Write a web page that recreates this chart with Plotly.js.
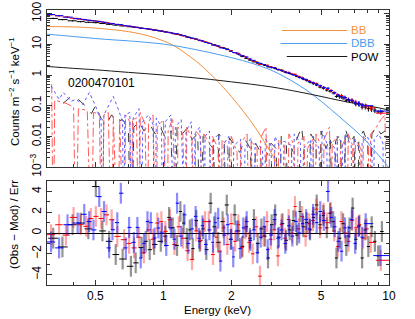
<!DOCTYPE html>
<html><head><meta charset="utf-8">
<script src="https://cdn.plot.ly/plotly-3.0.1.min.js"></script>
<style>html,body{margin:0;padding:0;background:#fff}#plot{width:415px;height:319px}</style>
</head><body><div id="plot"></div>
<script>
// ---------- model components ----------
const bbE  = [0.305,0.4,0.5,0.6,0.7,0.8,0.9,1.0,1.1,1.2,1.3,1.4,1.5,1.6,1.7,1.8,2.0,2.2,2.4,2.6,2.8,3.0,3.3];
const bbC  = [38,37,34,30,26,21.5,17,13,9.5,6.4,4.2,2.8,1.8,1.15,0.75,0.48,0.2,0.085,0.037,0.016,0.0068,0.0029,0.0008];
const dbbE = [0.305,0.4,0.5,0.6,0.7,0.8,1.0,1.2,1.5,2.0,2.5,3.0,3.5,4.0,4.5,5.0,5.5,6.0,6.5,7.0,7.5,8.0,8.5,9.0,9.5,10];
const dbbC = [21.5,18,15.5,14,13,12,10.2,8.3,6.0,3.7,2.35,1.45,0.82,0.46,0.255,0.14,0.078,0.045,0.027,0.017,0.0105,0.0065,0.0038,0.0024,0.0015,0.00095];
const powE = [0.305,0.4,0.5,0.7,1.0,1.5,2.0,3.0,4.0,5.0,6.0,7.0,8.0,9.0,10];
const powC = [1.9,1.65,1.48,1.22,1.0,0.76,0.6,0.41,0.28,0.2,0.15,0.12,0.1,0.085,0.072];

// ---------- per-instrument extra components (0 = empty bin) ----------
const compPN = [[0.36,0.12],[0.39,0.2],[0.42,0.16],[0.45,0.1],[0.48,0.055],[0.5,0.1],[0.53,0.038],[0.56,0.026],[0.59,0.05],[0.62,0.03],[0.66,0.035],[0.70,0.018],[0.72,0],[0.74,0.02],[0.78,0.03],[0.82,0.015],[0.87,0.025],[0.92,0.012],[0.97,0.02],[1.02,0.009],[1.08,0.015],[1.12,0],[1.15,0.02],[1.2,0.011],[1.27,0.018],[1.34,0.008],[1.42,0.012],[1.46,0],[1.5,0.01],[1.58,0.006],[1.67,0.004],[1.72,0],[1.76,0.012],[1.86,0.007],[1.92,0],[1.96,0.009],[2.07,0.005],[2.18,0.003],[2.3,0.008],[2.43,0.004],[2.5,0],[2.56,0.006],[2.7,0.003],[2.78,0],[2.85,0.002],[3.0,0.006],[3.16,0.004],[3.25,0],[3.33,0.01],[3.51,0.005],[3.6,0],[3.7,0.003],[3.9,0.008],[4.1,0.02],[4.2,0.004],[4.3,0],[4.5,0.012],[4.75,0.006],[4.85,0],[5.0,0.015],[5.25,0.004],[5.5,0.009],[5.65,0],[5.8,0.007],[6.1,0.012],[6.25,0],[6.4,0.018],[6.7,0.006],[7.0,0.01],[7.2,0],[7.35,0.008],[7.7,0.015],[8.05,0.006],[8.2,0],[8.4,0.012],[8.8,0.02],[9.2,0.012],[9.6,0.015],[9.9,0.01]];
const compM1 = [[0.32,0.5],[0.325,0],[0.33,0.15],[0.37,0.12],[0.40,0.09],[0.41,0],[0.42,0.08],[0.46,0.07],[0.48,0],[0.49,0.06],[0.52,0.055],[0.535,0],[0.545,0.05],[0.57,0.06],[0.59,0],[0.60,0.045],[0.63,0],[0.64,0.04],[0.67,0],[0.68,0.05],[0.71,0.03],[0.72,0],[0.73,0.035],[0.76,0.04],[0.78,0],[0.79,0.06],[0.83,0.025],[0.85,0],[0.86,0.03],[0.9,0.05],[0.93,0],[0.94,0.02],[1.0,0.035],[1.04,0],[1.05,0.015],[1.1,0.04],[1.15,0],[1.16,0.02],[1.22,0.012],[1.26,0],[1.27,0.02],[1.34,0.008],[1.38,0],[1.39,0.015],[1.46,0.01],[1.5,0],[1.51,0.012],[1.6,0.006],[1.64,0],[1.65,0.01],[1.75,0.004],[1.8,0],[1.82,0.008],[1.92,0.005],[1.98,0],[2.0,0.01],[2.12,0.003],[2.18,0],[2.2,0.006],[2.35,0.012],[2.42,0],[2.45,0.007],[2.6,0.004],[2.65,0],[2.7,0.009],[2.85,0.02],[2.92,0],[2.95,0.006],[3.1,0.003],[3.2,0],[3.25,0.008],[3.45,0.005],[3.55,0],[3.6,0.012],[3.8,0.005],[3.9,0],[3.95,0.006],[4.2,0.01],[4.3,0],[4.35,0.004],[4.6,0.008],[4.7,0],[4.75,0.012],[5.0,0.005],[5.1,0],[5.15,0.008],[5.45,0.02],[5.55,0],[5.6,0.006],[5.9,0.01],[6.0,0],[6.1,0.004],[6.4,0.008],[6.5,0],[6.6,0.012],[6.9,0.005],[7.0,0],[7.1,0.008],[7.5,0.004],[7.6,0],[7.7,0.01],[8.1,0.006],[8.2,0],[8.3,0.012],[8.8,0.02],[9.2,0.035],[9.6,0.05],[9.8,0]];
const compM2 = [[0.318,0.44],[0.345,0.16],[0.36,0.27],[0.39,0.14],[0.41,0.16],[0.44,0.11],[0.47,0.27],[0.5,0.1],[0.53,0.03],[0.535,0],[0.545,0.05],[0.58,0.12],[0.6,0.2],[0.63,0.08],[0.66,0.03],[0.665,0],[0.675,0.05],[0.71,0.06],[0.725,0],[0.735,0.04],[0.78,0.08],[0.8,0],[0.81,0.03],[0.86,0.05],[0.9,0.025],[0.92,0],[0.93,0.04],[0.98,0.02],[1.0,0],[1.02,0.03],[1.08,0.05],[1.12,0],[1.13,0.02],[1.2,0.035],[1.25,0],[1.26,0.015],[1.33,0.03],[1.37,0],[1.38,0.012],[1.45,0.02],[1.52,0],[1.53,0.01],[1.6,0.015],[1.66,0],[1.67,0.008],[1.76,0.012],[1.84,0],[1.86,0.006],[1.95,0.01],[2.03,0],[2.05,0.005],[2.2,0.008],[2.27,0],[2.3,0.004],[2.45,0.009],[2.52,0],[2.55,0.006],[2.75,0.004],[2.8,0],[2.83,0.008],[3.0,0.005],[3.08,0],[3.12,0.01],[3.3,0.004],[3.38,0],[3.42,0.007],[3.7,0.005],[3.75,0],[3.8,0.012],[4.05,0.006],[4.12,0],[4.18,0.004],[4.5,0.008],[4.56,0],[4.62,0.01],[4.9,0.004],[5.0,0],[5.05,0.015],[5.3,0.006],[5.38,0],[5.45,0.008],[5.75,0.004],[5.82,0],[5.9,0.01],[6.2,0.006],[6.3,0],[6.4,0.012],[6.8,0.005],[6.9,0],[7.0,0.008],[7.4,0.004],[7.5,0],[7.6,0.006],[8.0,0.01],[8.4,0.005],[8.5,0],[8.6,0.008],[9.0,0.012],[9.4,0.006],[9.5,0]];

// ---------- pn (black) ----------
const pnE = [0.325,0.357,0.396,0.43,0.465,0.502,0.537,0.575,0.615,0.66,
 0.718,0.754,0.80,0.836,0.87,0.91,0.974,1.02,1.06,1.10,
 1.15,1.19,1.23,1.27,1.31,1.35,1.40,1.45,1.50,1.55,
 1.62,1.68,1.75,1.83,1.91,1.99,2.07,2.15,2.24,2.33,
 2.42,2.52,2.62,2.72,2.82,2.91,3.02,3.13,3.25,3.37,
 3.50,3.63,3.77,3.91,4.03,4.17,4.32,4.47,4.62,4.78,
 4.95,5.12,5.30,5.48,5.66,5.85,6.05,6.26,6.47,6.68,
 6.90,7.13,7.37,7.60,7.85,8.10,8.38,8.66,8.95,9.30];
const pnData = [70,64,58.5,55,52.5,51,48,45,42.5,40,
 37.5,35.8,34,32.5,31,29.5,27.2,25.8,24.6,23,
 21.3,20.4,19.1,17.7,16.8,15.7,14.7,13.5,12.6,11.6,
 10.6,9.7,8.8,7.9,7.1,6.0,5.4,4.8,4.0,3.5,
 3.05,2.7,2.45,2.25,2.05,1.85,1.75,1.62,1.5,1.36,
 1.2,1.12,1.02,0.9,0.84,0.74,0.66,0.58,0.52,0.47,
 0.4,0.37,0.32,0.295,0.26,0.2,0.195,0.18,0.15,0.145,
 0.14,0.115,0.11,0.09,0.09,0.08,0.078,0.072,0.063,0.064];
const pnRes = [-0.5,-1.34,0.8,0.96,0.4,4.47,0.2,-0.8,-2.07,-2.5,
 -3.2,-2.87,-1.4,-0.8,-1.6,-1.1,-0.8,-0.3,1.5,0.5,
 -1.2,2.07,0.96,-0.5,0.3,-1.5,1.2,-0.8,0.4,-1.6,
 2.87,0.6,-0.9,1.1,2.7,-0.6,1.75,0.2,-1.28,0.6,
 -0.5,1.3,-1.0,0.4,-0.3,-2.4,0.8,1.75,-0.4,0.9,
 -0.7,0.3,1.2,-0.2,2.07,0.6,1.0,0.3,1.5,2.7,
 0.8,1.7,0.5,1.9,1.1,-2.4,-0.5,0.9,-1.2,0.5,
 2.4,-0.6,0.7,-2.4,0.3,-1.3,0.6,-0.8,-2.2,0.15];

// ---------- MOS1 (red) ----------
const m1E = [0.318,0.345,0.37,0.40,0.43,0.455,0.477,0.502,0.53,0.56,
 0.59,0.625,0.67,0.705,0.742,0.78,0.82,0.86,0.90,0.94,
 0.98,1.02,1.07,1.12,1.17,1.22,1.28,1.34,1.40,1.46,
 1.53,1.59,1.66,1.72,1.78,1.85,1.92,2.00,2.08,2.15,
 2.23,2.31,2.40,2.49,2.58,2.68,2.78,2.88,2.99,3.10,
 3.22,3.34,3.46,3.59,3.72,3.83,3.97,4.12,4.27,4.43,
 4.60,4.77,4.95,5.13,5.32,5.52,5.72,5.93,6.15,6.38,
 6.62,6.87,7.13,7.40,7.68,7.97,8.30,9.20];
const m1Data = [92,85,78,71,66,62.5,60,57.5,54,51,
 48,44.5,41,38.8,36.6,35,33,31.5,29.8,28.6,
 27.3,25.6,24.2,22,20.8,19.1,17.1,15.4,14.6,13.2,
 12.1,11.0,9.5,9.0,8.1,7.6,6.7,6.2,5.4,5.1,
 4.3,3.9,3.35,2.9,2.7,2.2,2.2,2.1,1.85,1.74,
 1.5,1.45,1.3,1.22,1.08,1.06,0.9,0.83,0.7,0.64,
 0.57,0.53,0.43,0.4,0.345,0.31,0.265,0.23,0.215,0.185,
 0.16,0.15,0.13,0.118,0.1,0.096,0.085,0.057];
const m1Res = [-0.16,0.8,-0.2,1.5,0.8,0.64,1.4,1.6,1.4,1.75,
 1.28,-0.32,-0.64,-1.0,-1.43,-0.4,-1.9,0.3,-0.6,0.96,
 1.1,0.16,1.28,-1.1,0.6,-0.5,-1.7,-2.55,0.2,-0.7,
 1.1,1.1,-2.07,-0.4,-1.75,0.5,-1.1,0.9,-0.8,0.8,
 -1.4,0.4,-0.9,-2.0,0.6,-4.15,-0.3,1.1,-0.6,0.3,
 -2.2,0.8,-0.5,1.3,0.0,2.55,0.4,1.6,-0.3,0.9,
 1.2,2.3,0.5,1.9,1.0,2.0,0.2,-1.3,1.1,0.0,
 -0.8,1.2,0.5,0.8,-0.5,0.4,-0.9,-2.62];

// ---------- MOS2 (blue) ----------
const m2E = [0.318,0.345,0.376,0.417,0.446,0.469,0.49,0.52,0.546,0.575,
 0.595,0.625,0.648,0.682,0.705,0.74,0.767,0.794,0.82,0.85,
 0.88,0.915,0.95,0.985,1.03,1.08,1.12,1.15,1.20,1.24,
 1.29,1.34,1.39,1.44,1.49,1.54,1.60,1.66,1.70,1.75,
 1.79,1.86,1.93,2.00,2.04,2.11,2.19,2.26,2.34,2.43,
 2.52,2.61,2.70,2.80,2.90,3.00,3.11,3.22,3.34,3.47,
 3.60,3.73,3.87,4.00,4.14,4.29,4.45,4.61,4.78,4.96,
 5.14,5.37,5.55,5.75,5.96,6.16,6.38,6.60,6.84,7.08,
 7.33,7.60,7.88,9.15];
const m2Data = [94,86,77,68.5,64,61,58.5,56,52.5,48.5,
 47.2,44.8,43.8,40.5,39.4,37,35.8,33.6,32.8,32.2,
 30.8,29.2,28.2,26.9,25.1,23.8,22.4,22.2,20.1,19.2,
 17.1,16.0,15.1,13.7,12.9,11.6,10.8,9.6,9.3,8.8,
 7.7,7.4,6.8,6.0,5.4,5.2,4.5,4.2,3.85,3.3,
 3.0,2.55,2.4,2.2,1.95,1.78,1.72,1.52,1.42,1.25,
 1.16,1.04,0.96,0.84,0.77,0.71,0.61,0.56,0.49,0.45,
 0.39,0.37,0.31,0.26,0.22,0.195,0.185,0.16,0.15,0.125,
 0.118,0.105,0.1,0.067];
const m2Res = [-0.86,-1.43,0.8,0.96,1.8,1.1,0.3,3.5,2.07,-1.43,
 0.32,1.0,3.83,-1.43,0.54,-0.9,0.54,-2.4,-1.0,1.1,
 1.0,-0.48,0.48,0.0,-1.2,0.5,-0.6,2.87,-0.3,1.75,
 -1.0,0.4,1.6,-0.5,0.7,-1.1,0.3,-0.9,1.0,1.43,
 -2.7,-0.2,0.8,-0.6,-2.3,0.2,-1.5,0.5,1.1,-0.7,
 0.3,-1.9,-0.4,0.6,-1.6,-0.2,1.3,-0.5,0.3,-1.0,
 0.7,-0.3,1.1,0.0,0.9,1.3,0.4,1.8,1.0,2.07,
 1.2,4.0,1.5,0.6,-0.8,-1.75,0.5,-0.3,1.3,-1.0,
 0.6,-0.4,0.9,-2.17];

// relative 1-sigma error of the unfolded spectrum, by energy band [band start keV, fraction]
const relErrBands = [[0.3,0.05],[0.6,0.035],[1.0,0.03],[2.0,0.04],[3.0,0.06],[4.0,0.08],[5.0,0.1],[6.0,0.14],[7.0,0.17],[8.0,0.2],[8.8,0.12]];

const xTickVals = [0.5,1,2,5,10];
const xTickText = ['0.5','1','2','5','10'];
const xMinor = [0.4,0.6,0.7,0.8,0.9,3,4,6,7,8,9];
const yTickVals = [0.001,0.01,0.1,1,10,100];
const yTickText = ['10<sup>\u22123</sup>','0.01','0.1','1','10','100'];
const yMinor = [];
[0.001,0.01,0.1,1,10,100].forEach(d=>{for(let k=2;k<=9;k++){yMinor.push(d*k);}});
const rTickVals = [-4,-2,0,2,4];
const rMinor = [-5,-3,-1,1,3,5];
const legendNames = ['BB','DBB','POW'];

// ---------- helpers ----------
const EMAX = 10;
function binHalf(E, toMax){
  const n=E.length, lo=[], hi=[];
  for(let i=0;i<n;i++){
    const l = i>0 ? (E[i-1]+E[i])/2 : E[i]-(E[1]-E[0])/2;
    const h = i<n-1 ? (E[i]+E[i+1])/2 : (toMax ? EMAX : E[i]+(E[i]-E[i-1])/2);
    lo.push(E[i]-l); hi.push(h-E[i]);
  }
  return {lo,hi};
}
function relErr(e){ let f=relErrBands[0][1]; relErrBands.forEach(b=>{ if(e>=b[0]) f=b[1]; }); return f; }

const FLOOR = 1e-6;
function compTrace(pairs, color, dash){
  return {x:pairs.map(p=>p[0]), y:pairs.map(p=>p[1]>0?p[1]:FLOOR), type:'scatter', mode:'lines',
    line:{color:color, width:1, dash:dash}, xaxis:'x', yaxis:'y', hoverinfo:'skip'};
}
function modelTrace(E, C, color){
  return {x:E, y:C, type:'scatter', mode:'lines', line:{color:color, width:1, shape:'spline', smoothing:1},
    xaxis:'x', yaxis:'y', hoverinfo:'skip'};
}
function specTrace(E, C, color, toMax){
  const b = binHalf(E, toMax);
  return {x:E, y:C, type:'scatter', mode:'markers', marker:{size:1, color:'rgba(0,0,0,0)'},
    error_x:{type:'data', symmetric:false, array:b.hi, arrayminus:b.lo, color:color, thickness:1, width:0},
    error_y:{type:'data', array:C.map((c,i)=>c*relErr(E[i])), color:color, thickness:1, width:0},
    xaxis:'x', yaxis:'y', hoverinfo:'skip'};
}
function resTrace(E, R, color, light, toMax){
  const b = binHalf(E, toMax);
  return {x:E, y:R, type:'scatter', mode:'markers', marker:{size:1, color:'rgba(0,0,0,0)'},
    error_x:{type:'data', symmetric:false, array:b.hi, arrayminus:b.lo, color:color, thickness:1, width:0},
    error_y:{type:'constant', value:1, color:light, thickness:2.2, width:0},
    xaxis:'x2', yaxis:'y2', hoverinfo:'skip'};
}

const C_BB='#f2913e', C_DBB='#4a9cf0', C_POW='#1a1a1a';
const traces = [
  compTrace(compPN, '#3a3a3a', 'dash'),
  compTrace(compM1, '#ff5a5a', 'dashdot'),
  compTrace(compM2, '#5a5aff', 'dot'),
  modelTrace(bbE, bbC, C_BB),
  modelTrace(dbbE, dbbC, C_DBB),
  modelTrace(powE, powC, C_POW),
  specTrace(pnE, pnData, '#000', false),
  specTrace(m1E, m1Data, '#ff0000', true),
  specTrace(m2E, m2Data, '#0000ff', true),
  resTrace(pnE, pnRes, '#000', 'rgba(0,0,0,0.42)', false),
  resTrace(m1E, m1Res, '#ff0000', 'rgba(255,0,0,0.35)', true),
  resTrace(m2E, m2Res, '#0000ff', 'rgba(0,0,255,0.45)', true)
];

const AX = '#333';
const common = {showline:true, linecolor:AX, linewidth:1, mirror:'allticks', ticks:'inside', ticklen:5, tickwidth:1, tickcolor:AX, showgrid:false, zeroline:false};
const xr = [Math.log10(0.305), 1];
const legY = [0.9255, 0.8782, 0.8309];
const legX0 = [0.686, 0.683, 0.701];
const legCol = [C_BB, C_DBB, C_POW];
const legTxtCol = [C_BB, C_DBB, '#000'];
const shapes = legendNames.map((n,i)=>({type:'line', xref:'paper', yref:'paper', x0:legX0[i], x1:0.878, y0:legY[i], y1:legY[i], line:{color:legCol[i], width:1}}));
const legAnn = legendNames.map((n,i)=>({text:n, xref:'paper', yref:'paper', x:0.883, y:legY[i], xanchor:'left', yanchor:'middle', showarrow:false, font:{size:11.5, color:legTxtCol[i]}}));

const layout = {
  width:415, height:319, margin:{l:47, r:26, t:10, b:34},
  paper_bgcolor:'#fff', plot_bgcolor:'#fff', showlegend:false,
  font:{family:'"Liberation Sans", Arial, sans-serif', size:12, color:'#000'},
  xaxis:Object.assign({}, common, {type:'log', range:xr, domain:[0,1], anchor:'y', tickmode:'array', tickvals:xTickVals, showticklabels:false,
     minor:{tickmode:'array', tickvals:xMinor, ticks:'inside', ticklen:3, tickcolor:AX, showgrid:false}}),
  xaxis2:Object.assign({}, common, {type:'log', range:xr, domain:[0,1], anchor:'y2', tickmode:'array', tickvals:xTickVals, ticktext:xTickText,
     minor:{tickmode:'array', tickvals:xMinor, ticks:'inside', ticklen:3, tickcolor:AX, showgrid:false}}),
  yaxis:Object.assign({}, common, {type:'log', range:[-3, 2.12], domain:[0.429,1], anchor:'x', tickmode:'array', tickvals:yTickVals, ticktext:yTickText, tickangle:-90,
     minor:{tickmode:'array', tickvals:yMinor, ticks:'inside', ticklen:3, tickcolor:AX, showgrid:false}}),
  yaxis2:Object.assign({}, common, {range:[-5,5], domain:[0,0.378], anchor:'x2', tickmode:'array', tickvals:rTickVals, tickangle:-90,
     zeroline:true, zerolinecolor:'#000', zerolinewidth:1,
     minor:{tickmode:'array', tickvals:rMinor, ticks:'inside', ticklen:3, tickcolor:AX, showgrid:false}}),
  shapes:shapes,
  annotations:legAnn.concat([
    {text:'0200470101', xref:'paper', yref:'paper', x:0.0547, y:0.7335, xanchor:'left', yanchor:'middle', showarrow:false, font:{size:12, color:'#000'}},
    {text:'Counts m<sup>\u22122</sup> s<sup>\u22121</sup> keV<sup>\u22121</sup>', xref:'paper', yref:'paper', x:-0.0965, y:0.7055, xanchor:'center', yanchor:'middle', textangle:-90, showarrow:false, font:{size:11.5}},
    {text:'(Obs \u2212 Mod) / Err', xref:'paper', yref:'paper', x:-0.0965, y:0.222, xanchor:'center', yanchor:'middle', textangle:-90, showarrow:false, font:{size:11.5}},
    {text:'Energy (keV)', xref:'paper', yref:'paper', x:0.499, y:-0.09, xanchor:'center', yanchor:'middle', showarrow:false, font:{size:11.5}}
  ])
};
Plotly.newPlot('plot', traces, layout, {staticPlot:true, displayModeBar:false});
</script></body></html>
